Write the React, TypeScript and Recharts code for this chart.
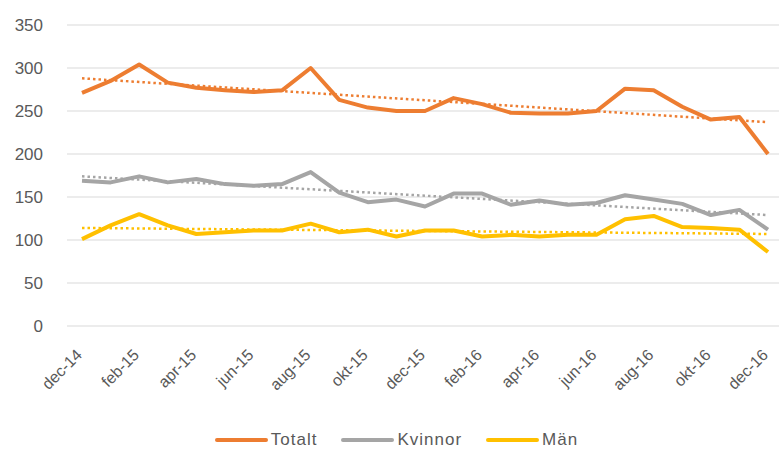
import { LineChart, Line, XAxis, YAxis, CartesianGrid, Legend } from 'recharts'

// months dec-14 .. dec-16
const months = [
  'dec-14', 'jan-15', 'feb-15', 'mar-15', 'apr-15', 'maj-15', 'jun-15', 'jul-15', 'aug-15',
  'sep-15', 'okt-15', 'nov-15', 'dec-15', 'jan-16', 'feb-16', 'mar-16', 'apr-16', 'maj-16',
  'jun-16', 'jul-16', 'aug-16', 'sep-16', 'okt-16', 'nov-16', 'dec-16',
]

const totalt = [271, 285, 304, 283, 277, 274, 272, 274, 300, 263, 254, 250, 250, 265, 258, 248, 247, 247, 250, 276, 274, 255, 240, 243, 200]
const kvinnor = [169, 167, 174, 167, 171, 165, 163, 165, 179, 155, 144, 147, 139, 154, 154, 141, 146, 141, 143, 152, 147, 142, 129, 135, 112]
const man = [101, 117, 130, 117, 107, 109, 111, 111, 119, 109, 112, 104, 111, 111, 104, 106, 104, 106, 106, 124, 128, 115, 114, 112, 86]

const trendTotalt = [288, 237]
const trendKvinnor = [174, 129]
const trendMan = [114, 107]

const yTicks = [0, 50, 100, 150, 200, 250, 300, 350]

const ORANGE = '#ED7D31'
const GRAY = '#A5A5A5'
const YELLOW = '#FFC000'
const TEXT = '#595959'
const FONT = '"Liberation Sans", Arial, sans-serif'

const last = months.length - 1
const data = months.map((m, i) => ({
  month: m,
  totalt: totalt[i],
  kvinnor: kvinnor[i],
  man: man[i],
  tTotalt: i === 0 ? trendTotalt[0] : i === last ? trendTotalt[1] : null,
  tKvinnor: i === 0 ? trendKvinnor[0] : i === last ? trendKvinnor[1] : null,
  tMan: i === 0 ? trendMan[0] : i === last ? trendMan[1] : null,
}))

const legendItems = [
  { label: 'Totalt', color: ORANGE },
  { label: 'Kvinnor', color: GRAY },
  { label: 'Män', color: YELLOW },
]

const MonthTick = ({ x, y, payload }: any) => (
  <text
    x={x + 1}
    y={y + 22}
    textAnchor="end"
    fill={TEXT}
    fontSize={16}
    fontFamily={FONT}
    transform={`rotate(-45, ${x + 1}, ${y + 22})`}
  >
    {payload.value}
  </text>
)

const LegendContent = () => (
  <div style={{ display: 'flex', justifyContent: 'center', alignItems: 'center', gap: 24, fontFamily: FONT, fontSize: 17, letterSpacing: 1, color: TEXT, paddingLeft: 14, paddingTop: 4 }}>
    {legendItems.map((it) => (
      <div key={it.label} style={{ display: 'flex', alignItems: 'center' }}>
        <div style={{ width: 53, height: 4, background: it.color, borderRadius: 2, marginRight: 3 }} />
        <span>{it.label}</span>
      </div>
    ))}
  </div>
)

export default function App() {
  return (
    <div style={{ position: 'absolute', left: 0, top: 0, background: '#fff' }}>
      <LineChart width={779} height={450} data={data} margin={{ top: 25, right: 0, left: 0, bottom: 0 }}>
        <CartesianGrid stroke="#D9D9D9" vertical={false} />
        <XAxis
          dataKey="month"
          interval={1}
          axisLine={false}
          tickLine={false}
          tick={<MonthTick />}
          height={100}
          padding={{ left: 15, right: 11 }}
        />
        <YAxis
          domain={[0, 350]}
          ticks={yTicks}
          width={67}
          axisLine={false}
          tickLine={false}
          tickMargin={18}
          tick={{ fill: TEXT, fontSize: 17, fontFamily: FONT }}
        />
        <Legend verticalAlign="bottom" height={24} content={<LegendContent />} />
        <Line dataKey="totalt" stroke={ORANGE} strokeWidth={4} dot={false} strokeLinejoin="round" isAnimationActive={false} />
        <Line dataKey="kvinnor" stroke={GRAY} strokeWidth={4} dot={false} strokeLinejoin="round" isAnimationActive={false} />
        <Line dataKey="man" stroke={YELLOW} strokeWidth={4} dot={false} strokeLinejoin="round" isAnimationActive={false} />
        <Line dataKey="tTotalt" stroke={ORANGE} strokeWidth={2.5} strokeDasharray="2.5 3" dot={false} connectNulls legendType="none" isAnimationActive={false} />
        <Line dataKey="tKvinnor" stroke={GRAY} strokeWidth={2.5} strokeDasharray="2.5 3" dot={false} connectNulls legendType="none" isAnimationActive={false} />
        <Line dataKey="tMan" stroke={YELLOW} strokeWidth={2.5} strokeDasharray="2.5 3" dot={false} connectNulls legendType="none" isAnimationActive={false} />
      </LineChart>
    </div>
  )
}
